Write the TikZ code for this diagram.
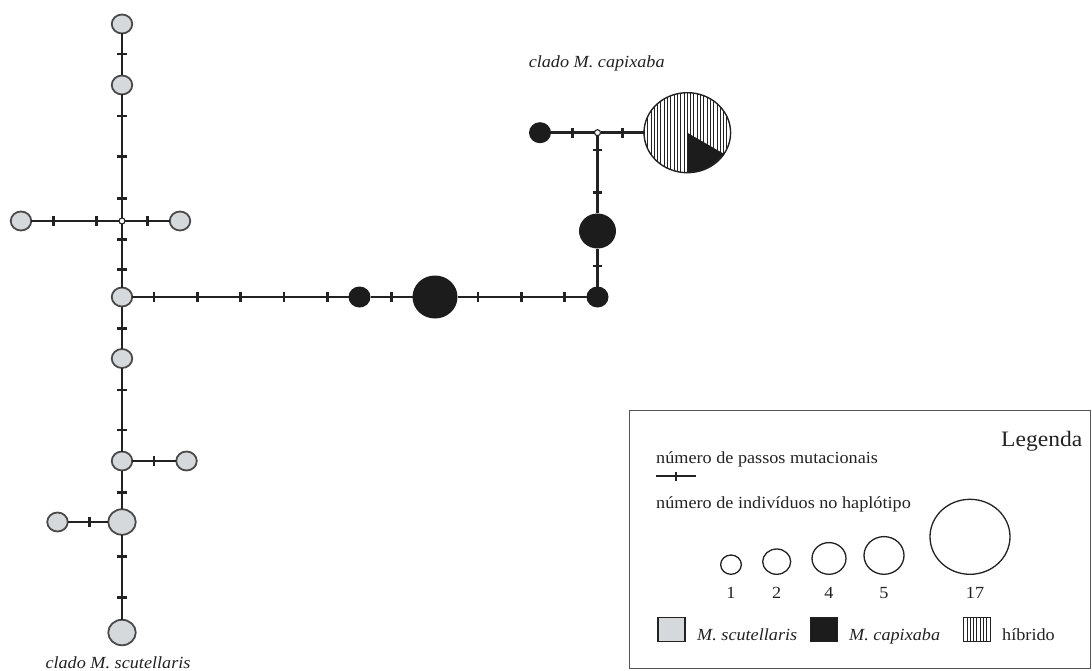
\documentclass[tikz,border=0pt]{standalone}
\usepackage{fontspec}
\setmainfont{Liberation Serif}[FakeStretch=1.07]
\usetikzlibrary{shapes.geometric}
\definecolor{scut}{HTML}{D6D9DC}
\definecolor{capx}{HTML}{1C1C1C}
\definecolor{ink}{HTML}{222222}
\definecolor{rim}{HTML}{4A4A4A}
\definecolor{frame}{HTML}{555555}

% short bars marking mutational steps
\newcommand\tkv[2]{\draw[tick] (#1,#2-5) -- (#1,#2+5);}     % on horizontal links
\newcommand\tkh[2]{\draw[tick] (#1-4.8,#2) -- (#1+4.8,#2);} % on vertical links

\begin{document}
\begin{tikzpicture}[x=1pt,y=-1pt,
  hap/.style={ellipse, inner sep=0pt, outer sep=0pt},
  scA/.style={hap, fill=scut, draw=rim, line width=1.8pt, minimum width=20.5pt, minimum height=19pt},
  scB/.style={hap, fill=scut, draw=rim, line width=1.8pt, minimum width=27.5pt, minimum height=25.5pt},
  cpA/.style={hap, fill=capx, minimum width=22pt, minimum height=21pt},
  cpB/.style={hap, fill=capx, minimum width=37pt, minimum height=35pt},
  cpC/.style={hap, fill=capx, minimum width=45pt, minimum height=43pt},
  med/.style={hap, fill=white, draw=ink, line width=1.1pt, minimum width=6pt, minimum height=6pt},
  hatchlines/.style={path picture={
      \foreach \k in {-14,...,14}
        \draw[ink, line width=0.9pt]
          ([xshift=\k*3.3pt]path picture bounding box.south) --
          ([xshift=\k*3.3pt]path picture bounding box.north);}},
  hyb/.style={hap, fill=white, draw=ink, line width=1.4pt,
      minimum width=86.6pt, minimum height=80pt,
      path picture={
      \foreach \k in {-14,...,14}
        \draw[ink, line width=1pt]
          ([xshift=\k*3.3pt]path picture bounding box.south) --
          ([xshift=\k*3.3pt]path picture bounding box.north);
      \fill[capx] (path picture bounding box.center)
          -- ([yshift=-60pt]path picture bounding box.center)
          -- ([xshift=60pt,yshift=-60pt]path picture bounding box.center)
          -- ([xshift=60pt,yshift=-34.7pt]path picture bounding box.center) -- cycle;}},
  edge/.style={draw=ink, line width=2.5pt},
  tick/.style={draw=ink, line width=2.8pt},
  lab/.style={text=ink, inner sep=0pt, font=\fontsize{17pt}{20pt}\selectfont},
  ring/.style={hap, draw=ink, line width=1.3pt, fill=white},
  swatch/.style={draw=ink, line width=1.3pt, inner sep=0pt, minimum width=27pt, minimum height=24pt, anchor=north west}]

\useasboundingbox (0,0) rectangle (1092,671);

% ---- M. scutellaris clade ----
\node[scA] (g1)  at (122,24) {};
\node[scA] (g2)  at (122,85) {};
\node[med] (m1)  at (122,221) {};
\node[scA] (gL)  at (21,221) {};
\node[scA] (gR)  at (180,221) {};
\node[scA] (g3)  at (122,297) {};
\node[scA] (g4)  at (122,358.5) {};
\node[scA] (g5)  at (122,461) {};
\node[scA] (g5R) at (186.5,461) {};
\node[scB] (g6)  at (122,522) {};
\node[scA] (g6L) at (57.5,522) {};
\node[scB] (g7)  at (122,632.5) {};

% ---- M. capixaba clade ----
\node[cpA] (b1) at (359.5,297) {};
\node[cpC] (b2) at (435,297) {};
\node[cpA] (b3) at (597.5,297) {};
\node[cpB] (b4) at (597.5,231) {};
\node[med] (m2) at (597.5,132.7) {};
\node[cpA] (b5) at (540,132.7) {};
\node[hyb] (H)  at (687.3,132.7) {};

% ---- links ----
\draw[edge] (g1) -- (g2);
\draw[edge] (g2) -- (m1);
\draw[edge] (gL) -- (m1);
\draw[edge] (m1) -- (gR);
\draw[edge] (m1) -- (g3);
\draw[edge] (g3) -- (g4);
\draw[edge] (g4) -- (g5);
\draw[edge] (g5) -- (g5R);
\draw[edge] (g5) -- (g6);
\draw[edge] (g6L) -- (g6);
\draw[edge] (g6) -- (g7);
\draw[edge] (g3) -- (b1);
\draw[edge] (b1) -- (b2);
\draw[edge] (b2) -- (b3);
\draw[edge] (b3) -- (b4);
\draw[edge] (b4) -- (m2);
\draw[edge] (b5) -- (m2);
\draw[edge] (m2) -- (H);

% ---- mutational steps ----
\tkh{122}{54}
\tkh{122}{116} \tkh{122}{156.7} \tkh{122}{198.3}
\tkv{53.3}{221} \tkv{96.7}{221}
\tkv{147.3}{221}
\tkh{122}{239.3} \tkh{122}{269.3}
\tkh{122}{328.3}
\tkh{122}{390} \tkh{122}{430}
\tkv{154}{461}
\tkh{122}{492.3}
\tkv{89.3}{522}
\tkh{122}{556.7} \tkh{122}{597.3}
\tkv{154}{297} \tkv{197.3}{297} \tkv{240.7}{297} \tkv{284}{297} \tkv{327.3}{297}
\tkv{391.7}{297}
\tkv{478}{297} \tkv{521.3}{297} \tkv{564.7}{297}
\tkh{597.5}{266}
\tkh{597.5}{150} \tkh{597.5}{192.7}
\tkv{572.7}{132.7}
\tkv{622.7}{132.7}

% ---- clade names ----
\node[lab, anchor=base] (tcap) at (596.7,67.3) {\itshape clado M. capixaba};
\node[lab, anchor=base] (tscu) at (118,668.5) {\itshape clado M. scutellaris};

% ---- legend ----
\node[draw=frame, line width=1.4pt, inner sep=0pt, anchor=north west,
      minimum width=461pt, minimum height=258pt] (leg) at (629,410) {};
\node[lab, anchor=base, font=\fontsize{22pt}{26pt}\selectfont] (legt) at (1041.7,446) {Legenda};
\node[lab, anchor=base west] (lstep) at (656,463) {número de passos mutacionais};
\coordinate (sa) at (656,476);
\coordinate (sb) at (696,476);
\draw[draw=ink, line width=1.4pt] (sa) -- (sb);
\draw[draw=ink, line width=1.8pt] (676,471.5) -- (676,480.5);
\node[lab, anchor=base west] (lind) at (656,508) {número de indivíduos no haplótipo};

\node[ring, anchor=south, minimum width=20.7pt, minimum height=19.3pt] (c1)  at (731,574.3) {};
\node[ring, anchor=south, minimum width=28pt,   minimum height=25.3pt] (c2)  at (776.7,574.3) {};
\node[ring, anchor=south, minimum width=34pt,   minimum height=31.7pt] (c4)  at (829,574.3) {};
\node[ring, anchor=south, minimum width=40pt,   minimum height=37.7pt] (c5)  at (884,574.3) {};
\node[ring, anchor=south, minimum width=80pt,   minimum height=75pt]   (c17) at (970,574.3) {};
\node[lab, anchor=base] (n1)  at (731,598) {1};
\node[lab, anchor=base] (n2)  at (776.7,598) {2};
\node[lab, anchor=base] (n4)  at (829,598) {4};
\node[lab, anchor=base] (n5)  at (884,598) {5};
\node[lab, anchor=base] (n17) at (975,598) {17};

\node[swatch, fill=scut] (ks) at (657.3,616.5) {};
\node[lab, anchor=base west] (kst) at (697,640.5) {\itshape M. scutellaris};
\node[swatch, fill=capx] (kc) at (809.5,616.5) {};
\node[lab, anchor=base west] (kct) at (849,640.5) {\itshape M. capixaba};
\node[swatch, fill=white, hatchlines] (kh) at (962.7,616.5) {};
\node[lab, anchor=base west] (kht) at (1002,640.5) {híbrido};

\end{tikzpicture}
\end{document}
